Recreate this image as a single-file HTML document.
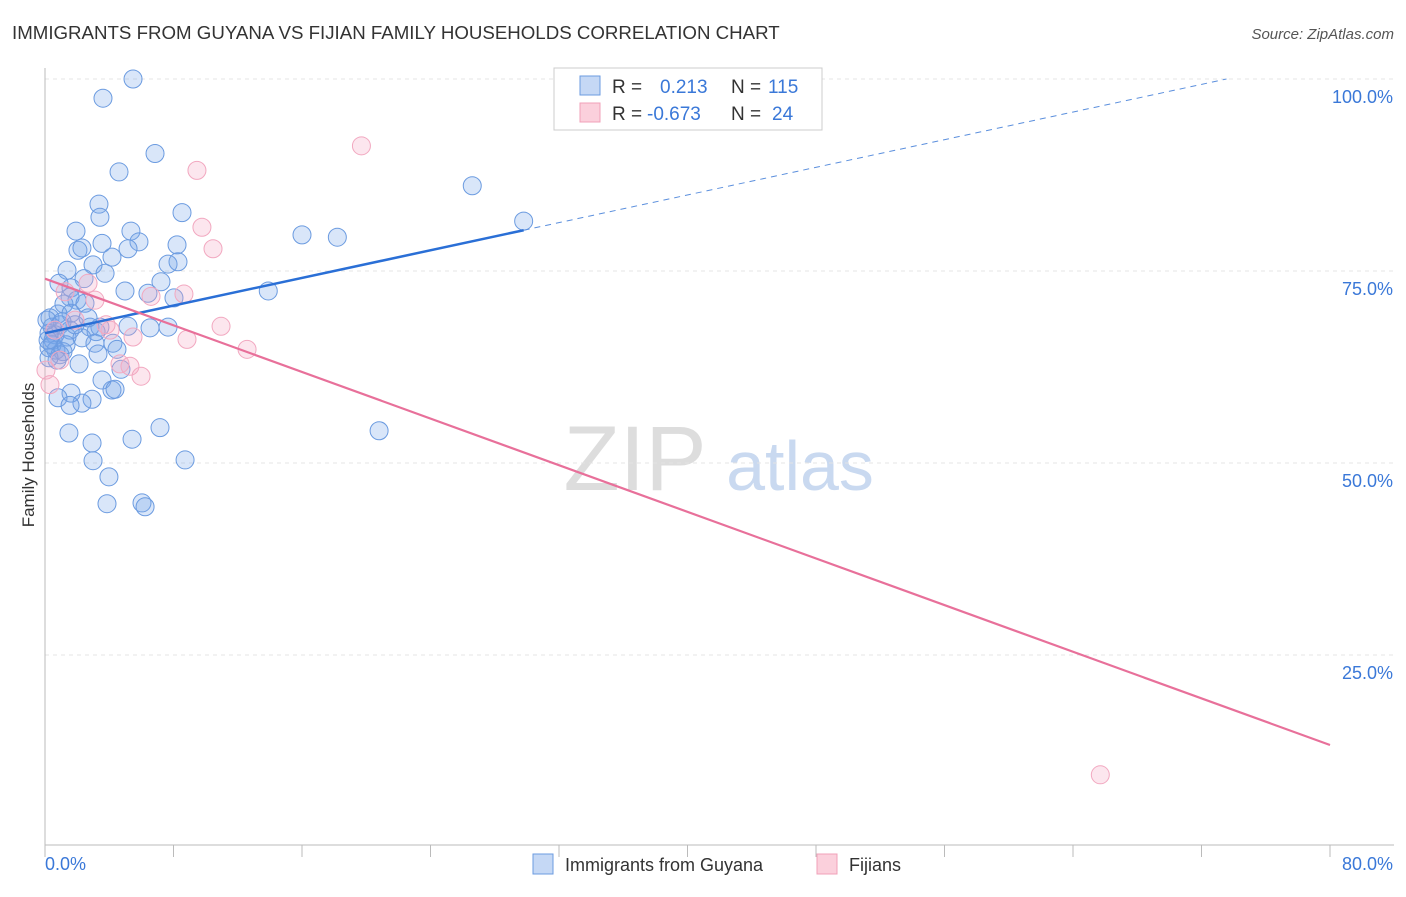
<!DOCTYPE html>
<html><head><meta charset="utf-8"><style>
body{margin:0;background:#fff;font-family:"Liberation Sans",sans-serif}
svg text{font-family:"Liberation Sans",sans-serif}
</style></head><body>
<svg width="1406" height="892">
<text x="12" y="39" font-size="18.7" fill="#333">IMMIGRANTS FROM GUYANA VS FIJIAN FAMILY HOUSEHOLDS CORRELATION CHART</text>
<text x="1394" y="39" font-size="15" fill="#555" font-style="italic" text-anchor="end">Source: ZipAtlas.com</text>
<g>
<text x="635" y="490" font-size="92" fill="#ddd" font-family="Liberation Serif" text-anchor="middle">ZIP</text>
<text x="800" y="490" font-size="70" fill="#c9d9f0" text-anchor="middle">atlas</text></g>
<g id="grid"></g><g id="axes"></g><g id="pts"></g><g id="lines"></g>
<text transform="translate(34,455) rotate(-90)" font-size="17" fill="#333" text-anchor="middle">Family Households</text>
<g>
<rect x="554" y="68" width="268" height="62" fill="#fff" stroke="#ccc"/>
<rect x="580" y="76" width="20" height="19" fill="#c5d8f5" stroke="#6b9be0"/>
<rect x="580" y="103" width="20" height="19" fill="#fbd0dc" stroke="#f0a0b8"/>
<text x="612" y="93" font-size="19" fill="#333">R = </text><text x="660" y="93" font-size="19" fill="#3a78d8">0.213</text>
<text x="731" y="93" font-size="19" fill="#333">N = </text><text x="768" y="93" font-size="19" fill="#3a78d8">115</text>
<text x="612" y="120" font-size="19" fill="#333">R = </text><text x="647" y="120" font-size="19" fill="#3a78d8">-0.673</text>
<text x="731" y="120" font-size="19" fill="#333">N = </text><text x="772" y="120" font-size="19" fill="#3a78d8">24</text>
</g>
<g>
<rect x="533" y="854" width="20" height="20" fill="#c5d8f5" stroke="#6b9be0"/>
<text x="565" y="871" font-size="18" fill="#333">Immigrants from Guyana</text>
<rect x="817" y="854" width="20" height="20" fill="#fbd0dc" stroke="#f0a0b8"/>
<text x="849" y="871" font-size="18" fill="#333">Fijians</text>
</g>
</svg>
<script>
const blueX=[5.48,3.61,6.85,4.61,26.6,29.8,3.36,3.42,8.53,16.0,18.2,1.93,5.35,3.55,2.05,2.30,5.85,8.22,5.17,4.17,7.66,8.28,2.99,1.37,3.74,2.43,7.22,4.98,6.41,13.9,0.87,1.62,1.56,1.18,1.99,2.49,8.03,0.31,0.81,1.62,0.44,0.93,0.62,1.56,2.80,3.42,5.17,6.54,7.66,3.18,0.25,0.50,1.37,2.30,3.11,0.25,0.68,1.12,3.30,4.23,4.48,2.12,4.73,3.55,4.17,4.36,1.62,0.81,2.93,2.30,1.56,1.49,2.93,5.42,7.16,20.8,2.99,8.72,3.98,3.86,6.04,6.23,0.12,0.19,0.44,0.93,1.31,1.87,2.68,1.06,0.75,0.25];
const blueY=[100.0,97.5,90.3,87.9,86.1,81.5,83.7,82.0,82.6,79.7,79.4,80.2,80.2,78.6,77.7,78.0,78.8,78.4,77.9,76.8,75.9,76.2,75.8,75.1,74.7,74.0,73.6,72.4,72.1,72.4,73.4,72.8,71.6,70.7,71.2,70.8,71.5,68.9,69.4,69.5,67.7,68.0,66.7,67.3,67.7,67.7,67.8,67.6,67.7,67.1,66.9,66.0,66.4,66.3,65.6,65.0,64.7,64.5,64.2,65.6,64.8,62.9,62.2,60.8,59.5,59.6,59.1,58.5,58.3,57.8,57.5,53.9,52.6,53.1,54.6,54.2,50.3,50.4,48.2,44.7,44.8,44.3,68.6,66.0,65.4,64.1,65.4,68.0,68.9,68.4,63.4,63.7];
const pinkX=[19.7,9.46,9.77,10.46,2.68,6.60,8.65,10.96,8.84,12.58,5.48,5.29,5.98,4.67,0.31,0.06,0.62,1.87,3.80,1.25,65.7,3.11,4.05,0.93];
const pinkY=[91.3,88.1,80.7,77.9,73.4,71.7,72.0,67.8,66.1,64.8,66.4,62.6,61.3,62.9,60.2,62.1,67.3,68.6,68.0,72.3,9.4,71.2,67.3,63.4];
const yTicks=[25,50,75,100];
const yTickLabels=["25.0%","50.0%","75.0%","100.0%"];
const blueTrend=[66.9,0.45,29.8];
const pinkTrend=[74.0,-0.759];
const sx=v=>45+v*1285/80, sy=v=>847-v*7.68;
const NS="http://www.w3.org/2000/svg";
function mk(t,a,p){const e=document.createElementNS(NS,t);for(const k in a)e.setAttribute(k,a[k]);p.appendChild(e);return e;}
const grid=document.getElementById('grid'),axes=document.getElementById('axes'),pts=document.getElementById('pts'),lines=document.getElementById('lines');
yTicks.forEach((t,i)=>{
 const l=mk('line',{x1:45,x2:1394,y1:sy(t),y2:sy(t),stroke:'#e4e4e4','stroke-dasharray':'4,4'},grid);
 
 
 const tx=mk('text',{x:1393,y:sy(t)+24,'font-size':18,fill:'#3a78d8','text-anchor':'end'},grid);tx.textContent=yTickLabels[i];
 
 
});
const ya=mk('line',{x1:45,x2:45,y1:68,y2:845,stroke:'#bbb'},axes);


const xa=mk('line',{x1:45,x2:1394,y1:845,y2:845,stroke:'#bbb'},axes);


for(let i=0;i<=10;i++){const t=mk('line',{x1:sx(i*8),x2:sx(i*8),y1:845,y2:857,stroke:'#bbb'},axes);
 
 }
const x0=mk('text',{x:45,y:870,'font-size':18,fill:'#3a78d8'},axes);x0.textContent='0.0%';


const x1=mk('text',{x:1393,y:870,'font-size':18,fill:'#3a78d8','text-anchor':'end'},axes);x1.textContent='80.0%';


blueX.forEach((x,i)=>{const c=mk('circle',{cx:sx(x),cy:sy(blueY[i]),r:9,fill:'rgba(120,165,235,0.28)',stroke:'#6b9be0','stroke-width':1},pts);
 
 });
pinkX.forEach((x,i)=>{const c=mk('circle',{cx:sx(x),cy:sy(pinkY[i]),r:9,fill:'rgba(245,165,195,0.28)',stroke:'#f2a8c0','stroke-width':1},pts);
 
 });
const bf=x=>blueTrend[0]+blueTrend[1]*x;
const b1=mk('line',{x1:sx(0),y1:sy(bf(0)),x2:sx(blueTrend[2]),y2:sy(bf(blueTrend[2])),stroke:'#2a6fd6','stroke-width':2.5},lines);


const xe=(100-blueTrend[0])/blueTrend[1];
const b2=mk('line',{x1:sx(blueTrend[2]),y1:sy(bf(blueTrend[2])),x2:sx(xe),y2:sy(100),stroke:'#5b8fdd','stroke-width':1,'stroke-dasharray':'6,5'},lines);


const pf=x=>pinkTrend[0]+pinkTrend[1]*x;
const p1=mk('line',{x1:sx(0),y1:sy(pf(0)),x2:sx(80),y2:sy(pf(80)),stroke:'#e8709a','stroke-width':2.2},lines);


</script>
</body></html>
